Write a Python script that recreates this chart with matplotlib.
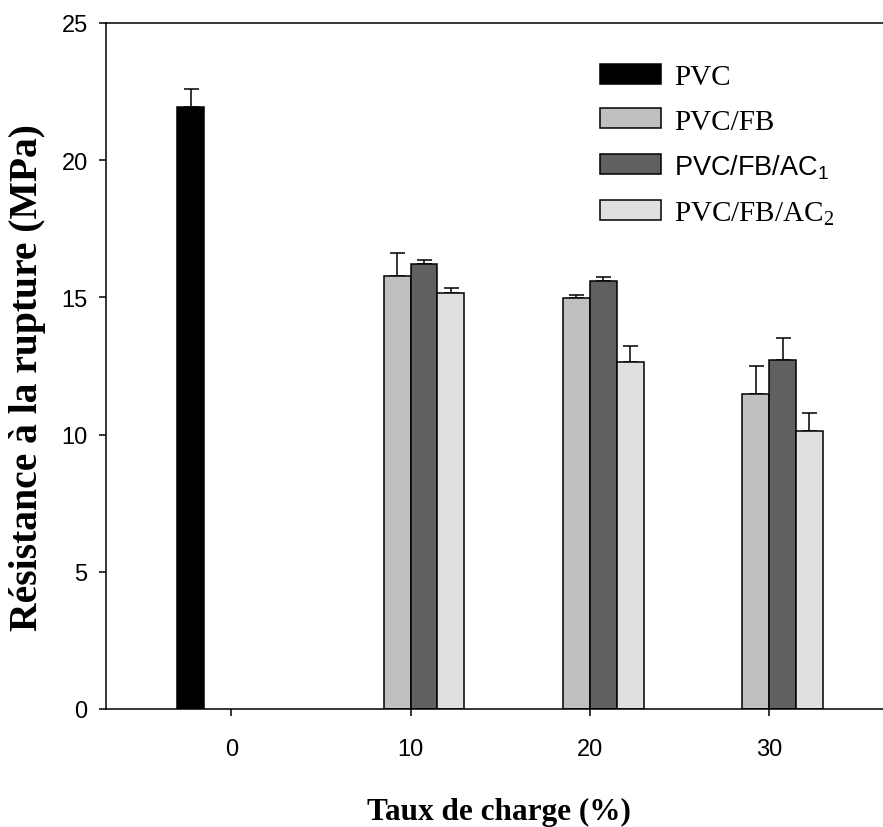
"""
Tensile strength at break vs filler content (PVC composites).
"""

import matplotlib.pyplot as plt
import numpy as np

# data
charge = [0, 10, 20, 30]
charge_filled = [10, 20, 30]

pvc = [21.93]
pvc_err = [0.66]
fb = [15.79, 14.97, 11.47]
fb_err = [0.82, 0.13, 1.03]
ac1 = [16.22, 15.59, 12.73]
ac1_err = [0.15, 0.14, 0.78]
ac2 = [15.15, 12.63, 10.13]
ac2_err = [0.19, 0.60, 0.66]

labels = ["PVC", "PVC/FB", r"PVC/FB/AC$_\mathregular{1}$", r"PVC/FB/AC$_\mathregular{2}$"]
colors = ["#000000", "#c0c0c0", "#606060", "#e0e0e0"]

SERIF = "Liberation Serif"
SANS = "Liberation Sans"

fig = plt.figure(figsize=(8.83, 8.28), dpi=100)
ax = fig.add_axes([105.7 / 883, 1 - 710 / 828, 1 - 105.7 / 883, 686 / 828])

width = 1.5
series = [
    ([0], pvc, pvc_err),
    (charge_filled, fb, fb_err),
    (charge_filled, ac1, ac1_err),
    (charge_filled, ac2, ac2_err),
]
handles = []
for i, (xs, vals, errs) in enumerate(series):
    x = np.array(xs, dtype=float) + (i - 1.5) * width
    b = ax.bar(x, vals, width, color=colors[i], edgecolor="black", linewidth=1.1, zorder=2)
    ax.errorbar(x, vals, yerr=[np.zeros(len(errs)), errs], fmt="none", ecolor="black",
                elinewidth=1.1, capsize=5.4, capthick=1.1, zorder=1)
    handles.append(b)

ax.set_xlim(-7, 36.35)
ax.set_ylim(0, 25)
ax.set_xticks(charge)
ax.set_yticks([0, 5, 10, 15, 20, 25])
ax.spines["right"].set_visible(False)
for s in ["left", "bottom", "top"]:
    ax.spines[s].set_linewidth(1.1)
ax.tick_params(direction="out", length=5, width=1.1)
ax.tick_params(axis="y", pad=8)
ax.tick_params(axis="x", pad=16)
for t in ax.get_xticklabels() + ax.get_yticklabels():
    t.set_family(SANS)
    t.set_fontsize(17)

ax.set_xlabel("Taux de charge (%)", family=SERIF, weight="bold", fontsize=22.5)
ax.xaxis.set_label_coords(499 / 883, 1 - 812 / 828, transform=fig.transFigure)
ax.xaxis.label.set_va("center")
ax.set_ylabel("Résistance à la rupture (MPa)", family=SERIF, weight="bold", fontsize=28.5)
ax.yaxis.set_label_coords(28 / 883, 1 - 378 / 828, transform=fig.transFigure)
ax.yaxis.label.set_va("center")

leg = ax.legend(handles, labels, loc="upper left",
                bbox_to_anchor=(600 / 883, 1 - 65 / 828), bbox_transform=fig.transFigure,
                frameon=False, prop={"family": SERIF, "size": 21},
                handlelength=2.1, handleheight=0.68, handletextpad=0.45,
                labelspacing=0.62, borderpad=0, borderaxespad=0)
leg.get_texts()[2].set_family(SANS)
leg.get_texts()[2].set_fontsize(19.5)

fig.savefig("out.png", dpi=100)
